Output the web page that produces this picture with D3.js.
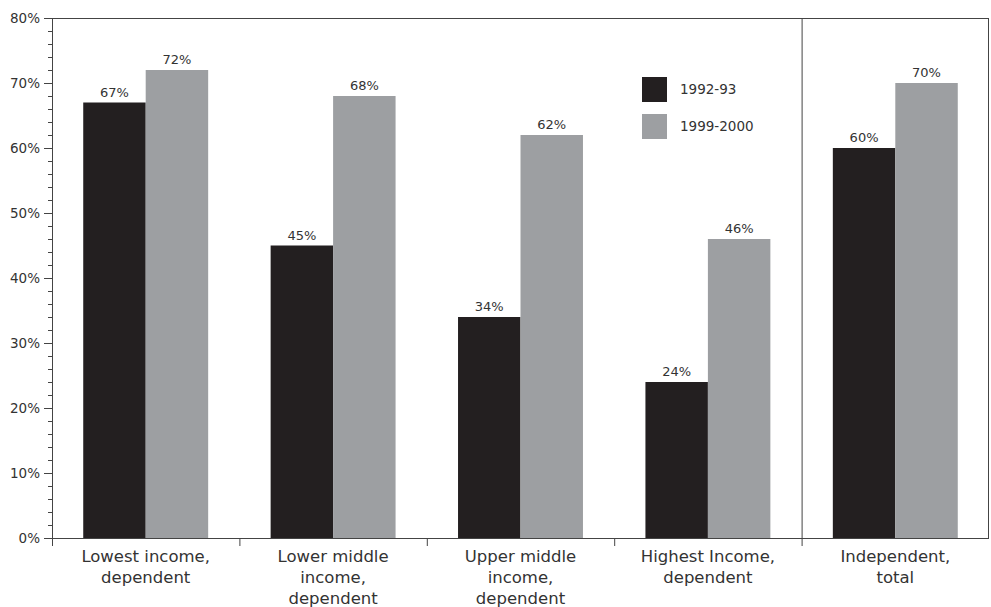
<!DOCTYPE html>
<html><head><meta charset="utf-8">
<script src="https://cdn.jsdelivr.net/npm/d3@7"></script>
<style>body{margin:0;background:#fff}svg{display:block}text{font-family:"DejaVu Sans",sans-serif;fill:#333}</style>
</head><body><svg id="c" width="991" height="607"></svg>
<script>
const categories = [["Lowest income,","dependent"],["Lower middle","income,","dependent"],["Upper middle","income,","dependent"],["Highest Income,","dependent"],["Independent,","total"]];
const catKeys = ["c0","c1","c2","c3","c4"];
const series = ["1992-93","1999-2000"];
const values1992 = [67,45,34,24,60];
const values1999 = [72,68,62,46,70];
const yTicks = [0,10,20,30,40,50,60,70,80];
const colors = ["#231f20","#9d9fa2"];

const svg = d3.select("#c");
const m = {l:52, r:989, t:18, b:538};
const x = d3.scaleBand().domain(catKeys).range([m.l, m.r]).padding(0);
const x1 = d3.scaleBand().domain(series).range([0, x.bandwidth()]).paddingInner(0).paddingOuter(0.5);
const y = d3.scaleLinear().domain([0,80]).range([m.b, m.t]);
const frame = "#444";

// bars
const data = catKeys.map((k,i)=>({k, v:[values1992[i], values1999[i]]}));
const g = svg.append("g");
data.forEach(d=>{
  d.v.forEach((v,j)=>{
    const bx = x(d.k)+x1(series[j]);
    g.append("rect").attr("x",bx).attr("y",y(v)).attr("width",x1.bandwidth()).attr("height",y(0)-y(v)).attr("fill",colors[j]);
    g.append("text").attr("x",bx+x1.bandwidth()/2).attr("y",y(v)-6).attr("text-anchor","middle").attr("font-size",13).text(v+"%");
  });
});

// frame lines
svg.append("line").attr("x1",m.l).attr("x2",m.r).attr("y1",m.t+0.5).attr("y2",m.t+0.5).attr("stroke",frame);
svg.append("line").attr("x1",m.r-0.5).attr("x2",m.r-0.5).attr("y1",m.t).attr("y2",m.b).attr("stroke",frame);
svg.append("line").attr("x1",x("c4")+0.5).attr("x2",x("c4")+0.5).attr("y1",m.t).attr("y2",m.b).attr("stroke",frame);

// y axis
const ya = svg.append("g").attr("transform",`translate(${m.l},0)`);
ya.append("line").attr("x1",0.5).attr("x2",0.5).attr("y1",m.t).attr("y2",m.b+8).attr("stroke",frame);
d3.range(0,81,2).forEach(t=>{
  const major = t%10===0;
  ya.append("line").attr("x1",major?-8:-4).attr("x2",0).attr("y1",Math.round(y(t))+0.5).attr("y2",Math.round(y(t))+0.5).attr("stroke",frame);
});
yTicks.forEach(t=>{
  ya.append("text").attr("x",-12).attr("y",y(t)).attr("dy","0.35em").attr("text-anchor","end").attr("font-size",13.5).text(t+"%");
});

// x axis
const xa = svg.append("g");
xa.append("line").attr("x1",m.l).attr("x2",m.r).attr("y1",m.b+0.5).attr("y2",m.b+0.5).attr("stroke",frame);
catKeys.forEach((k,i)=>{
  if(i>0) xa.append("line").attr("x1",x(k)+0.5).attr("x2",x(k)+0.5).attr("y1",m.b).attr("y2",m.b+8).attr("stroke",frame);
  const t = xa.append("text").attr("text-anchor","middle").attr("font-size",16.5);
  categories[i].forEach((line,li)=>{
    t.append("tspan").attr("x",x(k)+x.bandwidth()/2).attr("y",m.b+24+li*21).text(line);
  });
});

// legend
const lg = svg.append("g").attr("transform","translate(642,77)");
series.forEach((s,j)=>{
  lg.append("rect").attr("x",0).attr("y",j*37).attr("width",25).attr("height",25).attr("fill",colors[j]);
  lg.append("text").attr("x",38).attr("y",j*37+12.5).attr("dy","0.35em").attr("font-size",13.5).text(s);
});
</script></body></html>
